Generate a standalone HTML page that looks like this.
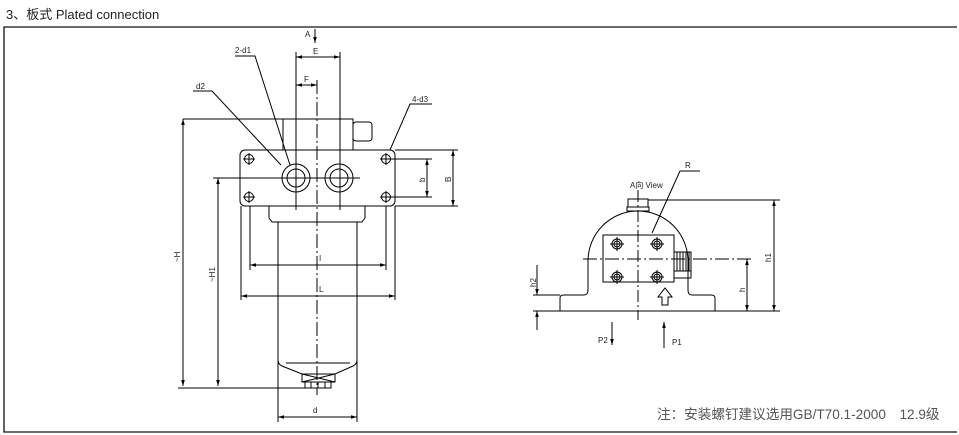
<!DOCTYPE html>
<html><head><meta charset="utf-8"><style>
html,body{margin:0;padding:0;background:#fff;width:959px;height:435px;overflow:hidden}
svg{display:block}
text{font-family:"Liberation Sans","Noto Sans CJK SC",sans-serif;fill:#222}
</style></head><body>
<svg width="959" height="435" viewBox="0 0 959 435" xmlns="http://www.w3.org/2000/svg">
<defs>
<marker id="ar" viewBox="0 0 10 10" refX="10" refY="5" markerWidth="6" markerHeight="6" orient="auto-start-reverse"><path d="M0,2 L10,5 L0,8z" fill="#000"/></marker>
</defs>
<text x="6" y="19" font-size="13">3、板式 Plated connection</text>
<g fill="none" stroke="#111" stroke-width="1.3">
<path d="M957,27 H4 V432 H957"/>
</g>
<g fill="none" stroke="#000" stroke-width="1">
<line x1="315" y1="29" x2="315" y2="43" marker-end="url(#ar)"/>
<line x1="296" y1="52" x2="296" y2="210"/><line x1="340" y1="52" x2="340" y2="210"/>
<line x1="296" y1="57" x2="340" y2="57" marker-start="url(#ar)" marker-end="url(#ar)"/>
<line x1="296" y1="85" x2="317" y2="85" marker-start="url(#ar)" marker-end="url(#ar)"/>
<line x1="317" y1="80" x2="317" y2="395" stroke-dasharray="14,3,2,3"/>
<path d="M235,56 H255 L290,165" /><path d="M193,91 H212 L281,165"/><path d="M432,104 H410 L390,150"/>
<rect x="283" y="119" width="70" height="31"/>
<rect x="353" y="122" width="19" height="19" rx="3"/>
<rect x="240" y="150" width="155" height="56" rx="5"/>
<g>
<circle cx="249" cy="159" r="4.5"/><circle cx="249" cy="197" r="4.5"/><circle cx="386" cy="159" r="4.5"/><circle cx="386" cy="197" r="4.5"/>
<path d="M243,159h12M249,153v12M243,197h12M249,191v12M380,159h12M386,153v12M380,197h12M386,191v12"/>
</g>
<circle cx="296" cy="178" r="14"/><circle cx="296" cy="178" r="9"/>
<circle cx="339" cy="178" r="14"/><circle cx="339" cy="178" r="9"/>
<line x1="213" y1="178" x2="360" y2="178"/>
<line x1="183" y1="119" x2="283" y2="119"/>
<line x1="183" y1="119" x2="183" y2="386" marker-start="url(#ar)" marker-end="url(#ar)"/>
<line x1="218" y1="178" x2="218" y2="386" marker-start="url(#ar)" marker-end="url(#ar)"/>
<line x1="178" y1="388" x2="330" y2="388"/>
<path d="M390,159H432M390,197H432M395,150H458M395,206H458"/>
<line x1="427" y1="159" x2="427" y2="197" marker-start="url(#ar)" marker-end="url(#ar)"/>
<line x1="453" y1="150" x2="453" y2="206" marker-start="url(#ar)" marker-end="url(#ar)"/>
<path d="M269,206 V218 L272,222 H362 L365,218 V206"/>
<path d="M278,222 V360 Q278,364 282,366 L302,374 H335 L353,366 Q357,364 357,360 V222"/>
<line x1="286" y1="363" x2="350" y2="363"/>
<path d="M302,374 V382 H335 V374 M302,374 L335,382 M335,374 L302,382"/>
<path d="M305,382 V388 H331 V382 M311,382V388M318,382V388M325,382V388"/>
<path d="M241,206V300M250,206V270M386,206V270M395,206V300"/>
<line x1="250" y1="265" x2="386" y2="265" marker-start="url(#ar)" marker-end="url(#ar)"/>
<line x1="241" y1="296" x2="395" y2="296" marker-start="url(#ar)" marker-end="url(#ar)"/>
<path d="M278,360V422M357,360V422"/>
<line x1="278" y1="417" x2="357" y2="417" marker-start="url(#ar)" marker-end="url(#ar)"/>

<path d="M560,311 V298 Q560,295 564,295 H584 Q588,295 588,290 V261 A50,50 0 0 1 688,261 V290 Q688,295 692,295 H711 Q715,295 715,298 V311"/>
<line x1="533" y1="311" x2="780" y2="311"/>
<rect x="628" y="199" width="20" height="8"/><rect x="627" y="207" width="22" height="4"/>
<line x1="648" y1="200" x2="780" y2="200"/>
<line x1="774" y1="200" x2="774" y2="311" marker-start="url(#ar)" marker-end="url(#ar)"/>
<rect x="603" y="235" width="71" height="47"/>
<g>
<circle cx="617" cy="244" r="5"/><circle cx="657" cy="244" r="5"/><circle cx="617" cy="277" r="5"/><circle cx="657" cy="277" r="5"/>
<circle cx="617" cy="244" r="3"/><circle cx="657" cy="244" r="3"/><circle cx="617" cy="277" r="3"/><circle cx="657" cy="277" r="3"/>
<path d="M610,244h14M617,237v14M650,244h14M657,237v14M610,277h14M617,270v14M650,277h14M657,270v14"/>
</g>
<rect x="674" y="252" width="17" height="26"/>
<path d="M677,252v19M680,252v19M683,252v19M686,252v19M689,252v19M674,271h17"/>
<line x1="638" y1="190" x2="638" y2="320" stroke-dasharray="12,3,2,3"/>
<line x1="583" y1="259" x2="752" y2="259" stroke-dasharray="14,3,2,3"/>
<line x1="747" y1="259" x2="747" y2="311" marker-start="url(#ar)" marker-end="url(#ar)"/>
<line x1="533" y1="295" x2="560" y2="295"/>
<line x1="537" y1="265" x2="537" y2="295" marker-end="url(#ar)"/>
<line x1="537" y1="330" x2="537" y2="311" marker-end="url(#ar)"/>
<path d="M662,305 V297 H658 L665,288 L672,297 H668 V305 Z"/>
<path d="M680,171 H700 M680,171 L652,233"/>
<line x1="612" y1="322" x2="612" y2="345" marker-end="url(#ar)"/>
<line x1="664" y1="348" x2="664" y2="322" marker-end="url(#ar)"/>
</g>
<g font-size="8">
<text x="305" y="37">A</text>
<text x="313" y="54">E</text>
<text x="304" y="82">F</text>
<text x="235" y="53">2-d1</text>
<text x="196" y="89">d2</text>
<text x="412" y="102">4-d3</text>
<text x="319" y="261">I</text>
<text x="319" y="292">L</text>
<text x="313" y="413">d</text>
<text transform="translate(180,262) rotate(-90)">~H</text>
<text transform="translate(215,282) rotate(-90)">~H1</text>
<text transform="translate(425,182) rotate(-90)">b</text>
<text transform="translate(451,182) rotate(-90)">B</text>
<text x="630" y="188">A向 View</text>
<text x="685" y="168">R</text>
<text transform="translate(771,262) rotate(-90)">h1</text>
<text transform="translate(745,292) rotate(-90)">h</text>
<text transform="translate(536,287) rotate(-90)">h2</text>
<text x="598" y="343">P2</text>
<text x="672" y="345">P1</text>
</g>
<text x="657" y="419" font-size="13.6" style="fill:#555">注：安装螺钉建议选用GB/T70.1-2000　12.9级</text>
</svg>
</body></html>
